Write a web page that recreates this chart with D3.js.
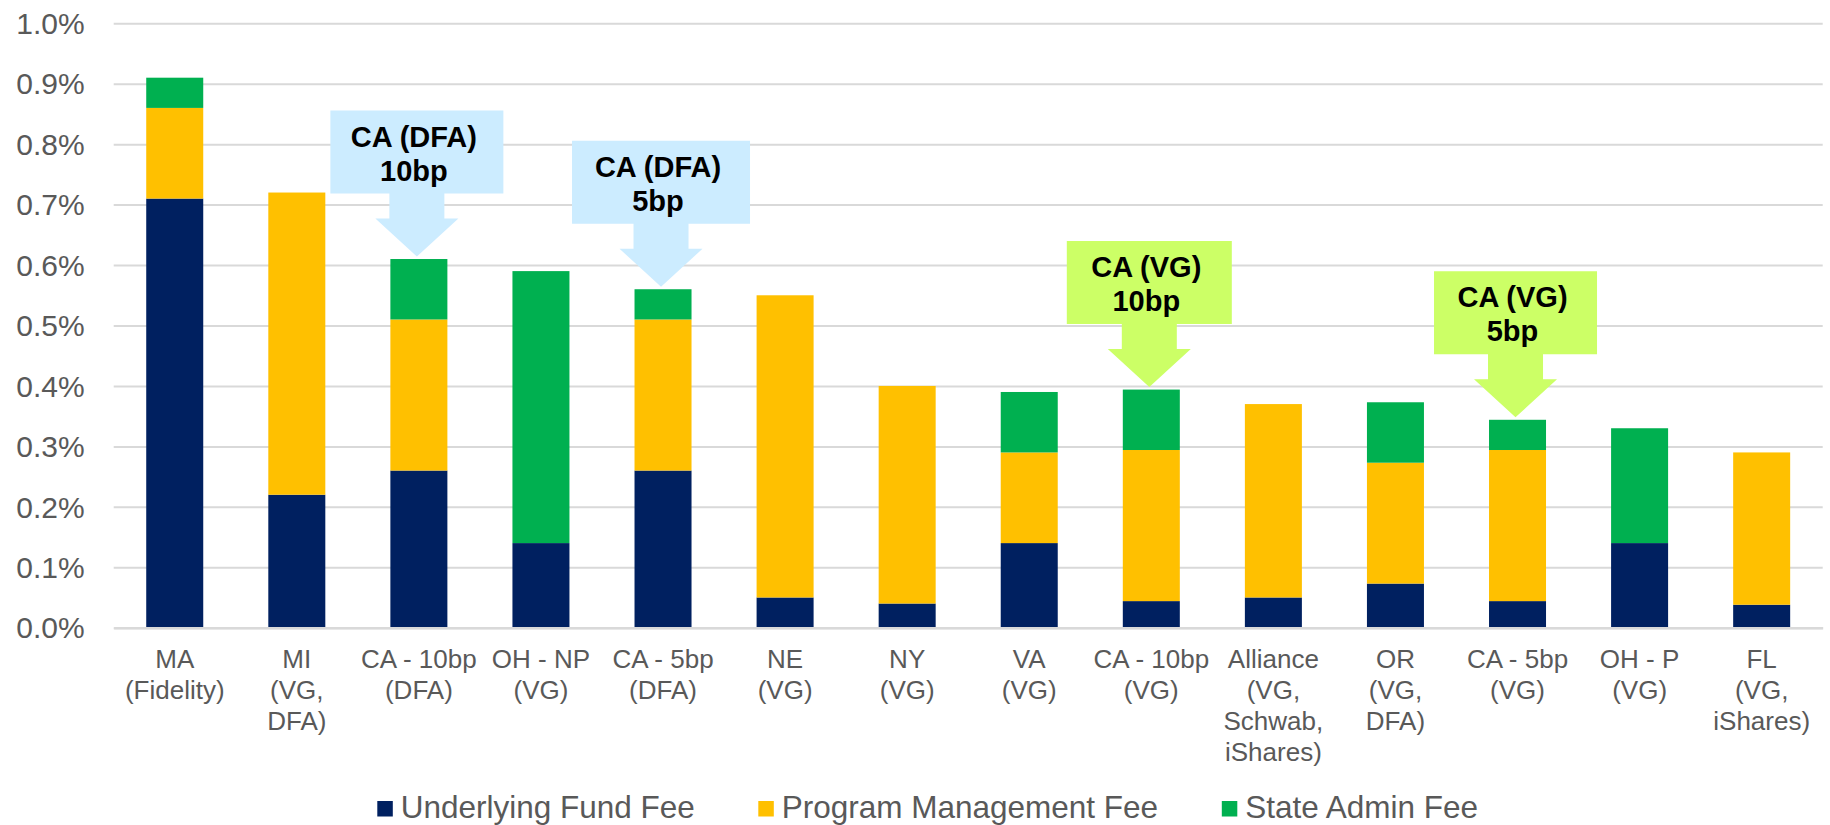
<!DOCTYPE html>
<html>
<head>
<meta charset="utf-8">
<script src="https://cdn.jsdelivr.net/npm/d3@7"></script>
<style>
  html, body { margin: 0; padding: 0; background: #fff; }
  svg { display: block; font-family: "Liberation Sans", Arial, sans-serif; }
</style>
</head>
<body>
<svg id="chart" width="1830" height="825"></svg>
<script>
// ---- data (values in percent) ----
const categories = ["MA", "MI", "CA - 10bp DFA", "OH - NP", "CA - 5bp DFA", "NE", "NY", "VA",
                    "CA - 10bp VG", "Alliance", "OR", "CA - 5bp VG", "OH - P", "FL"];
const categoryLabels = [
  ["MA", "(Fidelity)"],
  ["MI", "(VG,", "DFA)"],
  ["CA - 10bp", "(DFA)"],
  ["OH - NP", "(VG)"],
  ["CA - 5bp", "(DFA)"],
  ["NE", "(VG)"],
  ["NY", "(VG)"],
  ["VA", "(VG)"],
  ["CA - 10bp", "(VG)"],
  ["Alliance", "(VG,", "Schwab,", "iShares)"],
  ["OR", "(VG,", "DFA)"],
  ["CA - 5bp", "(VG)"],
  ["OH - P", "(VG)"],
  ["FL", "(VG,", "iShares)"]
];
const seriesNames = ["Underlying Fund Fee", "Program Management Fee", "State Admin Fee"];
const underlyingFundFee   = [0.71, 0.22, 0.26, 0.14, 0.26, 0.05, 0.04, 0.14, 0.044, 0.05, 0.073, 0.044, 0.14, 0.038];
const programManagementFee = [0.15, 0.50, 0.25, 0.00, 0.25, 0.50, 0.36, 0.15, 0.25, 0.32, 0.20, 0.25, 0.00, 0.252];
const stateAdminFee       = [0.05, 0.00, 0.10, 0.45, 0.05, 0.00, 0.00, 0.10, 0.10, 0.00, 0.10, 0.05, 0.19, 0.00];
const yTicks = [0, 0.1, 0.2, 0.3, 0.4, 0.5, 0.6, 0.7, 0.8, 0.9, 1.0];
const callouts = [
  { target: "CA - 10bp DFA", lines: ["CA (DFA)", "10bp"], fill: "#CCECFF", width: 173 },
  { target: "CA - 5bp DFA",  lines: ["CA (DFA)", "5bp"],  fill: "#CCECFF", width: 178 },
  { target: "CA - 10bp VG",  lines: ["CA (VG)", "10bp"],  fill: "#CCFF66", width: 165 },
  { target: "CA - 5bp VG",   lines: ["CA (VG)", "5bp"],   fill: "#CCFF66", width: 163 }
];
const colors = ["#002060", "#FFC000", "#00B050"];

// ---- build ----
const svg = d3.select("#chart");
const xLeft = 113.7, xRight = 1822.7, yTop = 23.3, yBottom = 627.7;

const x = d3.scaleBand().domain(categories).range([xLeft, xRight])
  .paddingInner(0.533).paddingOuter(0.2665);
const y = d3.scaleLinear().domain([0, 1.0]).range([yBottom, yTop]);

const rows = categories.map((c, i) => ({
  cat: c,
  [seriesNames[0]]: underlyingFundFee[i],
  [seriesNames[1]]: programManagementFee[i],
  [seriesNames[2]]: stateAdminFee[i]
}));
const stacked = d3.stack().keys(seriesNames)(rows);

// gridlines
const yAxis = d3.axisLeft(y).tickValues(yTicks).tickSize(-(xRight - xLeft))
  .tickFormat(d => d.toFixed(1) + "%").tickPadding(29);
const gy = svg.append("g").attr("transform", `translate(${xLeft},0)`).call(yAxis);
gy.select(".domain").remove();
gy.selectAll(".tick line").attr("stroke", "#D9D9D9").attr("stroke-width", 2);
gy.selectAll(".tick text").attr("fill", "#595959").attr("font-size", 30)
  .attr("font-family", "'Liberation Sans', Arial, sans-serif").attr("dy", "0.34em");

// bars
svg.append("g").selectAll("g").data(stacked).join("g")
  .attr("fill", (d, i) => colors[i])
  .selectAll("rect").data(d => d).join("rect")
  .attr("x", d => x(d.data.cat))
  .attr("width", x.bandwidth())
  .attr("y", d => y(d[1]))
  .attr("height", d => Math.max(0, y(d[0]) - y(d[1])));

// x axis (baseline + labels)
const xAxis = d3.axisBottom(x).tickSize(0).tickFormat(() => "");
const gx = svg.append("g").attr("transform", `translate(0,${yBottom})`).call(xAxis);
gx.select(".domain").attr("stroke", "#D9D9D9").attr("stroke-width", 2.5);
gx.selectAll(".tick").each(function(d, i) {
  const t = d3.select(this).append("text")
    .attr("fill", "#595959").attr("font-size", 26).attr("text-anchor", "middle")
    .attr("font-family", "'Liberation Sans', Arial, sans-serif");
  categoryLabels[i].forEach((ln, j) => {
    t.append("tspan").attr("x", 0).attr("y", 40.6 + j * 31).text(ln);
  });
});

// callouts
const totals = categories.map((c, i) => underlyingFundFee[i] + programManagementFee[i] + stateAdminFee[i]);
callouts.forEach(co => {
  const idx = categories.indexOf(co.target);
  const cx = x(co.target) + x.bandwidth() / 2 - 2;
  const tipY = y(totals[idx]) - 2.5;
  const headBase = tipY - 38;
  const boxBottom = tipY - 63;
  const boxTop = boxBottom - 83;
  const g = svg.append("g");
  const hw = co.width / 2, sw = 27.5, hh = 41.5;
  const path = [
    [cx - hw, boxTop], [cx + hw, boxTop], [cx + hw, boxBottom],
    [cx + sw, boxBottom], [cx + sw, headBase], [cx + hh, headBase],
    [cx, tipY], [cx - hh, headBase], [cx - sw, headBase], [cx - sw, boxBottom],
    [cx - hw, boxBottom]
  ];
  g.append("path").attr("d", d3.line()(path) + "Z").attr("fill", co.fill);
  const t = g.append("text").attr("text-anchor", "middle").attr("font-size", 29)
    .attr("font-weight", "bold").attr("fill", "#000")
    .attr("font-family", "'Liberation Sans', Arial, sans-serif");
  co.lines.forEach((ln, j) => {
    t.append("tspan").attr("x", cx - 3).attr("y", boxTop + 36 + j * 34).text(ln);
  });
});

// legend
const legendX = [377.3, 758.3, 1221.8];
const lg = svg.append("g");
seriesNames.forEach((name, i) => {
  const g = lg.append("g").attr("transform", `translate(${legendX[i]},0)`);
  g.append("rect").attr("x", 0).attr("y", 801).attr("width", 15.5).attr("height", 15.5).attr("fill", colors[i]);
  g.append("text").attr("x", 23.4).attr("y", 818.3).attr("font-size", 31.5).attr("fill", "#595959")
    .attr("font-family", "'Liberation Sans', Arial, sans-serif").text(name);
});
</script>
</body>
</html>
